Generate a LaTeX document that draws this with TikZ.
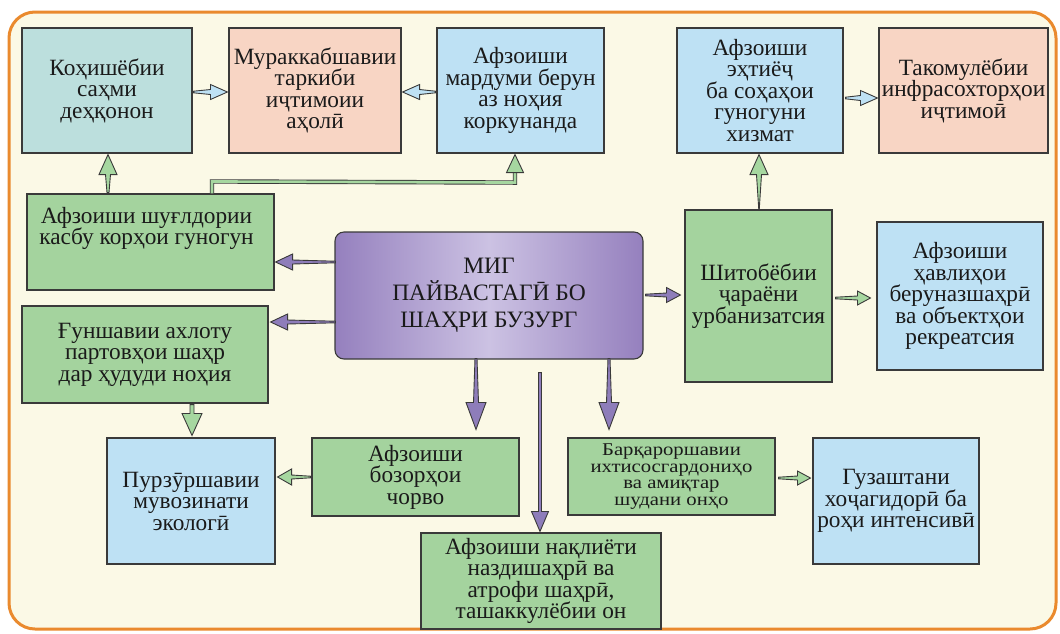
\documentclass[tikz,border=0pt]{standalone}
\usepackage{fontspec}
\setmainfont{Liberation Serif}
\newfontfamily\wideserif{Liberation Serif}[FakeStretch=1.15]
\usetikzlibrary{calc}
\lineskiplimit=-100pt

\definecolor{framefill}{HTML}{FBF9E6}
\definecolor{frameline}{HTML}{EA8A2E}
\definecolor{tealfill}{HTML}{BCDFDD}
\definecolor{salmonfill}{HTML}{F8D5C4}
\definecolor{bluefill}{HTML}{BEE1F4}
\definecolor{greenfill}{HTML}{A4D39E}
\definecolor{purpdark}{HTML}{9580BE}
\definecolor{purplight}{HTML}{CCC2E3}
\definecolor{purparrow}{HTML}{8E7DBA}
\definecolor{greenarrow}{HTML}{A6D7A0}
\definecolor{bluearrow}{HTML}{BEE1F4}
\definecolor{outl}{HTML}{3A3A3A}
\definecolor{txt}{HTML}{1A1A1A}

% block arrow: style, from, to, tail half width, neck half width, head half width, head length
\newcommand\barrow[7]{%
  \coordinate (ba-h) at ($(#3)!#7!(#2)$);
  \filldraw[#1] ($(#2)!#4!90:(#3)$) -- ($(ba-h)!#5!-90:(#2)$) -- ($(ba-h)!#6!-90:(#2)$)
    -- (#3) -- ($(ba-h)!#6!90:(#2)$) -- ($(ba-h)!#5!90:(#2)$) -- ($(#2)!#4!-90:(#3)$) -- cycle;
}

\tikzset{
  bx/.style={draw=outl, line width=1.1pt, align=center, text=txt, inner sep=0pt,
    font=\fontsize{23.3}{21.5}\selectfont},
  txtonly/.style={align=center, text=txt, inner sep=0pt,
    font=\fontsize{23.3}{21.5}\selectfont},
  tealbox/.style={bx, fill=tealfill},
  salmonbox/.style={bx, fill=salmonfill},
  bluebox/.style={bx, fill=bluefill},
  greenbox/.style={bx, fill=greenfill},
  parrow/.style={fill=purparrow, draw=outl, line width=0.9pt},
  garrow/.style={fill=greenarrow, draw=outl, line width=0.9pt},
  blarrow/.style={fill=bluearrow, draw=outl, line width=0.9pt},
}

\begin{document}
\begin{tikzpicture}[x=1pt, y=-1pt]
\useasboundingbox (0,0) rectangle (1060,633);
\fill[white] (0,0) rectangle (1060,633);
\draw[frameline, line width=3pt, fill=framefill, rounded corners=26pt] (9,12) rectangle (1056,629);

% top row
\node[tealbox, minimum width=170pt, minimum height=125pt] (box1) at (107,90.5) {Коҳишёбии\\саҳми\\деҳқонон};
\node[salmonbox, minimum width=172pt, minimum height=125pt] (box2) at (315,90.5) {Мураккабшавии\\таркиби\\иҷтимоии\\аҳолӣ};
\node[bluebox, minimum width=167pt, minimum height=125pt] (box3) at (520.5,90.5) {Афзоиши\\мардуми берун\\аз ноҳия\\коркунанда};
\node[bluebox, minimum width=166pt, minimum height=125pt] (box4) at (760,90.5) {Афзоиши\\эҳтиёҷ\\ба соҳаҳои\\гуногуни\\хизмат};
\node[salmonbox, minimum width=169pt, minimum height=125pt] (box5) at (963.5,90.5) {Такомулёбии\\инфрасохторҳои\\иҷтимоӣ};

% left column
\node[greenbox, minimum width=247pt, minimum height=96pt] (box6) at (150.5,242) {};
\node[txtonly] (box6t) at ($(box6.north)+(-4,35)$) {Афзоиши шуғлдории\\касбу корҳои гуногун};
\node[greenbox, minimum width=246pt, minimum height=97pt] (box7) at (145,354.5) {Ғуншавии ахлоту\\партовҳои шаҳр\\дар ҳудуди ноҳия};

% centre
\node[draw=outl, line width=1.1pt, rounded corners=9pt, left color=purpdark, right color=purpdark,
  middle color=purplight, minimum width=308pt, minimum height=127pt, align=center, text=txt,
  font=\fontsize{23.5}{27}\selectfont] (mig) at (489,295.5)
  {МИГ\\ПАЙВАСТАГӢ БО\\ШАҲРИ БУЗУРГ};

% right middle
\node[greenbox, minimum width=147pt, minimum height=172pt] (box9) at (758.5,296) {Шитобёбии\\ҷараёни\\урбанизатсия};
\node[bluebox, minimum width=166pt, minimum height=148pt] (box10) at (960,296) {Афзоиши\\ҳавлиҳои\\беруназшаҳрӣ\\ва объектҳои\\рекреатсия};

% bottom row
\node[bluebox, minimum width=168pt, minimum height=126pt] (box11) at (191,501) {Пурзӯршавии\\мувозинати\\экологӣ};
\node[greenbox, minimum width=207pt, minimum height=78pt] (box12) at (415.5,477) {Афзоиши\\бозорҳои\\чорво};
\node[greenbox, minimum width=240pt, minimum height=96pt] (box13) at (541,581) {Афзоиши нақлиёти\\наздишаҳрӣ ва\\атрофи шаҳрӣ,\\ташаккулёбии он};
\node[greenbox, minimum width=207pt, minimum height=77pt, font=\wideserif\fontsize{18}{16.6}\selectfont] (box14) at (671.5,476.5) {Барқароршавии\\ихтисосгардониҳо\\ва амиқтар\\шудани онҳо};
\node[bluebox, minimum width=166pt, minimum height=126pt] (box15) at (896,501) {Гузаштани\\хоҷагидорӣ ба\\роҳи интенсивӣ};

% arrow end points
\coordinate (a1s) at ($(box1.east)+(1,1.5)$);   \coordinate (a1e) at ($(box2.west)+(-1,1.5)$);
\coordinate (a2s) at ($(box3.west)+(-1,1.5)$);  \coordinate (a2e) at ($(box2.east)+(1,1.5)$);
\coordinate (a3s) at ($(box4.east)+(2,7.5)$);   \coordinate (a3e) at ($(box5.west)+(-1,7.5)$);
\coordinate (a4s) at ($(box6.north)+(-42.5,-1)$); \coordinate (a4e) at ($(box1.south)+(1,1)$);
\coordinate (a6s) at ($(box9.north)+(0.5,-1)$); \coordinate (a6e) at ($(box4.south)+(-1,1)$);
\coordinate (a7s) at ($(mig.west)+(1,-33.5)$);  \coordinate (a7e) at ($(box6.east)+(1,20)$);
\coordinate (a8s) at ($(mig.west)+(1,26.5)$);   \coordinate (a8e) at ($(box7.east)+(2,-32.5)$);
\coordinate (a9s) at ($(mig.east)+(2,-0.5)$);   \coordinate (a9e) at ($(box9.west)+(-4,-1)$);
\coordinate (a10s) at ($(box9.east)+(3,2)$);    \coordinate (a10e) at ($(box10.west)+(-6,2)$);
\coordinate (a11s) at ($(box7.south)+(47,1)$);  \coordinate (a11e) at ($(box11.north)+(1,-2)$);
\coordinate (a12s) at ($(box12.west)+(-1,0)$);  \coordinate (a12e) at ($(box11.east)+(2,-24)$);
\coordinate (a13s) at ($(mig.south)+(-13,-1)$); \coordinate (a13e) at ($(box12.north)+(60.5,-8)$);
\coordinate (a14s) at ($(mig.south)+(51,13)$);  \coordinate (a14e) at ($(box13.north)+(-1,-1)$);
\coordinate (a15s) at ($(mig.south)+(120,-1)$); \coordinate (a15e) at ($(box14.north)+(-62.5,-8)$);
\coordinate (a16s) at ($(box14.east)+(3,1.5)$); \coordinate (a16e) at ($(box15.west)+(-2,-23)$);

% blue arrows (top row)
\barrow{blarrow}{a1s}{a1e}{0.8pt}{2.5pt}{7.5pt}{17pt}
\barrow{blarrow}{a2s}{a2e}{0.8pt}{2.5pt}{7.5pt}{17pt}
\barrow{blarrow}{a3s}{a3e}{0.8pt}{2.5pt}{7.5pt}{17pt}

% green arrows
\barrow{garrow}{a4s}{a4e}{1pt}{2.5pt}{9pt}{20pt}
\barrow{garrow}{a6s}{a6e}{0.3pt}{2.5pt}{9pt}{20pt}
\barrow{garrow}{a10s}{a10e}{0.8pt}{2pt}{7pt}{13pt}
\barrow{garrow}{a11s}{a11e}{2pt}{2pt}{10pt}{22pt}
\barrow{garrow}{a12s}{a12e}{0.8pt}{2pt}{8pt}{14pt}
\barrow{garrow}{a16s}{a16e}{0.8pt}{2pt}{7pt}{13pt}

% elbow connector box6 -> box3
\coordinate (c5a) at ($(box6.north)+(61.5,-12)$);
\coordinate (c5b) at ($(box3.south)+(-5.5,29)$);
\coordinate (c5t) at ($(box3.south)+(-5.5,1)$);
\coordinate (c5n) at ($(c5t)+(0,18)$);
\draw[draw=outl, line width=0.9pt, double=greenarrow, double distance=2.6pt]
  (box6.north -| c5a) -- (c5a) -- (c5b) -- (c5n);
\filldraw[garrow] ($(c5n)+(-8.5,0)$) -- (c5t) -- ($(c5n)+(8.5,0)$) -- cycle;

% purple arrows
\barrow{parrow}{a7s}{a7e}{0.8pt}{2pt}{8pt}{17pt}
\barrow{parrow}{a8s}{a8e}{0.8pt}{2pt}{8pt}{17pt}
\barrow{parrow}{a9s}{a9e}{0.8pt}{2pt}{7.5pt}{14pt}
\barrow{parrow}{a13s}{a13e}{1pt}{2.5pt}{10pt}{27pt}
\barrow{parrow}{a14s}{a14e}{1.5pt}{1.5pt}{8.5pt}{20pt}
\barrow{parrow}{a15s}{a15e}{1pt}{2.5pt}{10pt}{27pt}
\end{tikzpicture}
\end{document}
